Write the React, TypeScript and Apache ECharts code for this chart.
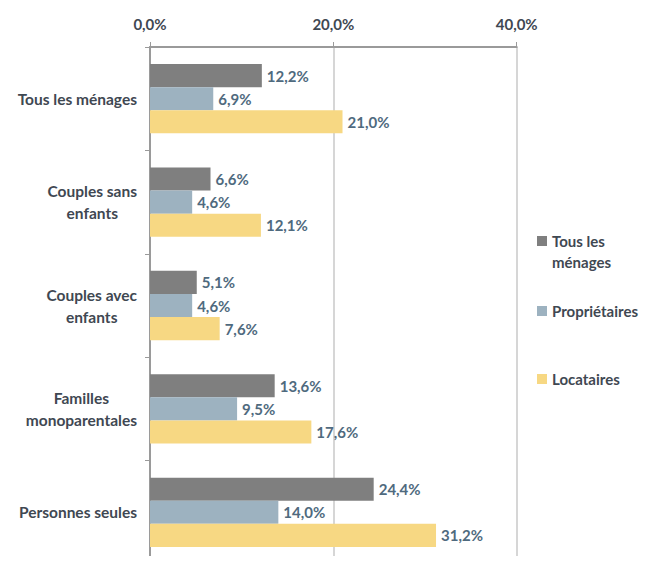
import React, { useEffect, useRef } from "react";
import * as echarts from "echarts";

const categories = [
  "Tous les ménages",
  "Couples sans enfants",
  "Couples avec enfants",
  "Familles monoparentales",
  "Personnes seules",
];
const categoryLines: Record<string, string[]> = {
  "Tous les ménages": ["Tous les ménages"],
  "Couples sans enfants": ["Couples sans", "enfants"],
  "Couples avec enfants": ["Couples avec", "enfants"],
  "Familles monoparentales": ["Familles", "monoparentales"],
  "Personnes seules": ["Personnes seules"],
};
const seriesNames = ["Tous les ménages", "Propriétaires", "Locataires"];
const legendLabels = ["\nTous les\nménages", "Propriétaires", "Locataires"];
const tousLesMenages = [12.2, 6.6, 5.1, 13.6, 24.4];
const proprietaires = [6.9, 4.6, 4.6, 9.5, 14.0];
const locataires = [21.0, 12.1, 7.6, 17.6, 31.2];
const colors = ["#7f7f7f", "#9db2c0", "#f7d883"];

const FONT = "Lato, 'Open Sans', sans-serif";
const TEXT = "#3f4852";
const VALUE = "#4f6a7e";

const fmt = (v: number) => v.toFixed(1).replace(".", ",") + "%";

export default function App() {
  const ref = useRef<HTMLDivElement>(null);
  useEffect(() => {
    if (!ref.current) return;
    const chart = echarts.init(ref.current, undefined, { renderer: "svg" });
    const values = [tousLesMenages, proprietaires, locataires];
    const legendTops = [204.5, 295.5, 363.5];
    chart.setOption({
      animation: false,
      textStyle: { fontFamily: FONT },
      grid: { left: 150, top: 47, width: 366.7, height: 525, containLabel: false },
      xAxis: {
        type: "value",
        position: "top",
        min: 0,
        max: 40,
        interval: 20,
        axisLine: { show: true, lineStyle: { color: "#9a9a9a", width: 2 } },
        axisTick: { show: true, inside: false, length: 5, lineStyle: { color: "#9a9a9a", width: 1 } },
        splitLine: { show: true, lineStyle: { color: "#d6d6d6", width: 2 } },
        axisLabel: {
          formatter: (v: number) => fmt(v),
          color: TEXT,
          fontSize: 15,
          fontWeight: "bold",
          fontFamily: FONT,
          margin: 16,
        },
      },
      yAxis: {
        type: "category",
        inverse: true,
        data: categories,
        axisLine: { show: true, lineStyle: { color: "#9a9a9a", width: 2 } },
        axisTick: { show: true, length: 5, lineStyle: { color: "#9a9a9a", width: 1 } },
        axisLabel: {
          margin: 13,
          align: "right",
          formatter: (name: string) =>
            (categoryLines[name] || [name]).map((l) => `{c|${l}}`).join("\n"),
          rich: {
            c: {
              align: "center",
              fontSize: 15.5,
              fontWeight: "bold",
              color: TEXT,
              fontFamily: FONT,
              lineHeight: 22,
            },
          },
        },
      },
      legend: seriesNames.map((n, i) => ({
        data: [n],
        left: 532,
        top: legendTops[i],
        orient: "vertical",
        icon: "rect",
        itemWidth: 10,
        itemHeight: 10,
        formatter: () => legendLabels[i],
        textStyle: {
          color: TEXT,
          fontSize: 15,
          fontWeight: "bold",
          fontFamily: FONT,
          lineHeight: 21,
        },
        selectedMode: false,
      })),
      series: seriesNames.map((n, i) => ({
        name: n,
        type: "bar",
        data: values[i],
        barGap: "0%",
        barCategoryGap: "33%",
        itemStyle: { color: colors[i] },
        label: {
          show: true,
          position: "right",
          distance: 5,
          formatter: (p: any) => fmt(p.value),
          color: VALUE,
          fontSize: 15,
          fontWeight: "bold",
          fontFamily: FONT,
        },
      })),
    });
    return () => chart.dispose();
  }, []);
  return <div ref={ref} style={{ width: 652, height: 564, margin: -8 }} />;
}
